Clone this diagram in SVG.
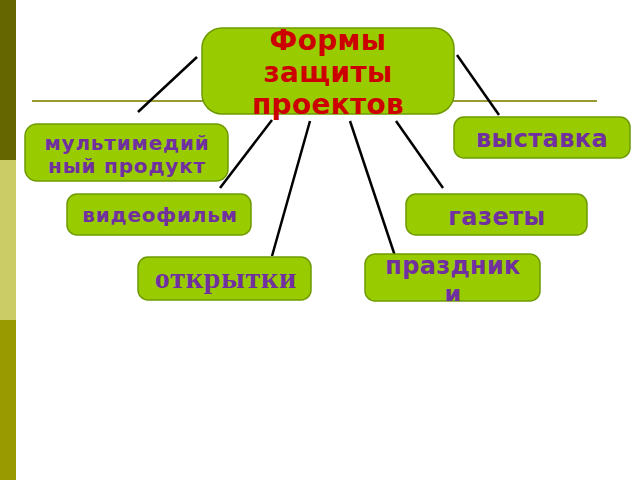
<svg xmlns="http://www.w3.org/2000/svg" width="640" height="480" viewBox="0 0 640 480">
<style>
.box{fill:#99CC00;stroke:#6E9A00;stroke-width:1.5}
.t{font-family:"DejaVu Sans",Verdana,sans-serif;font-weight:bold;fill:#7030A0;text-anchor:middle}
.title{font-family:"DejaVu Sans",Verdana,sans-serif;font-weight:bold;fill:#CC0000;text-anchor:middle;font-size:28px;letter-spacing:0.3px}
.c{stroke:#000;stroke-width:2.5;fill:none}
</style>
<defs>
<clipPath id="cp"><rect x="365" y="254" width="175" height="47" rx="10"/></clipPath>
</defs>
<rect width="640" height="480" fill="#fff"/>
<g id="sidebar">
<rect x="0" y="0" width="16" height="160" fill="#666600"/>
<rect x="0" y="160" width="16" height="160" fill="#CCCC66"/>
<rect x="0" y="320" width="16" height="160" fill="#999900"/>
</g>
<line x1="32" y1="101" x2="597" y2="101" stroke="#999933" stroke-width="2"/>
<g id="connectors">
<line class="c" x1="197" y1="57" x2="138" y2="112"/>
<line class="c" x1="457" y1="55" x2="499" y2="115"/>
<line class="c" x1="272" y1="120" x2="220" y2="188"/>
<line class="c" x1="310" y1="121" x2="272" y2="256"/>
<line class="c" x1="350" y1="121" x2="395" y2="256"/>
<line class="c" x1="396" y1="121" x2="443" y2="188"/>
</g>
<g id="center">
<rect class="box" x="202" y="28" width="252" height="86" rx="20"/>
<text class="title" x="328" y="50">Формы</text>
<text class="title" x="328" y="82">защиты</text>
<text class="title" x="328" y="114">проектов</text>
</g>
<g id="vystavka">
<rect class="box" x="454" y="117" width="176" height="41" rx="10"/>
<text class="t" x="542" y="147" font-size="24" letter-spacing="0.4">выставка</text>
</g>
<g id="multimedia">
<rect class="box" x="25" y="124" width="203" height="57" rx="12"/>
<text class="t" x="127" y="150" font-size="20" letter-spacing="0.8">мультимедий</text>
<text class="t" x="127" y="173" font-size="20" letter-spacing="0.8">ный продукт</text>
</g>
<g id="videofilm">
<rect class="box" x="67" y="194" width="184" height="41" rx="10"/>
<text class="t" x="160" y="222" font-size="20" letter-spacing="0.8">видеофильм</text>
</g>
<g id="gazety">
<rect class="box" x="406" y="194" width="181" height="41" rx="10"/>
<text class="t" x="497" y="225" font-size="24" letter-spacing="0.5">газеты</text>
</g>
<g id="otkrytki">
<rect class="box" x="138" y="257" width="173" height="43" rx="10"/>
<text x="226" y="288" font-size="30" letter-spacing="0.8" font-family="'Liberation Serif','Times New Roman',serif" font-weight="bold" fill="#7030A0" text-anchor="middle">открытки</text>
</g>
<g id="prazdniki">
<rect class="box" x="365" y="254" width="175" height="47" rx="10"/>
<g clip-path="url(#cp)">
<text class="t" x="453" y="274" font-size="24" letter-spacing="0.3">праздник</text>
<text class="t" x="453" y="303" font-size="24" letter-spacing="0.3">и</text>
</g>
</g>
</svg>
